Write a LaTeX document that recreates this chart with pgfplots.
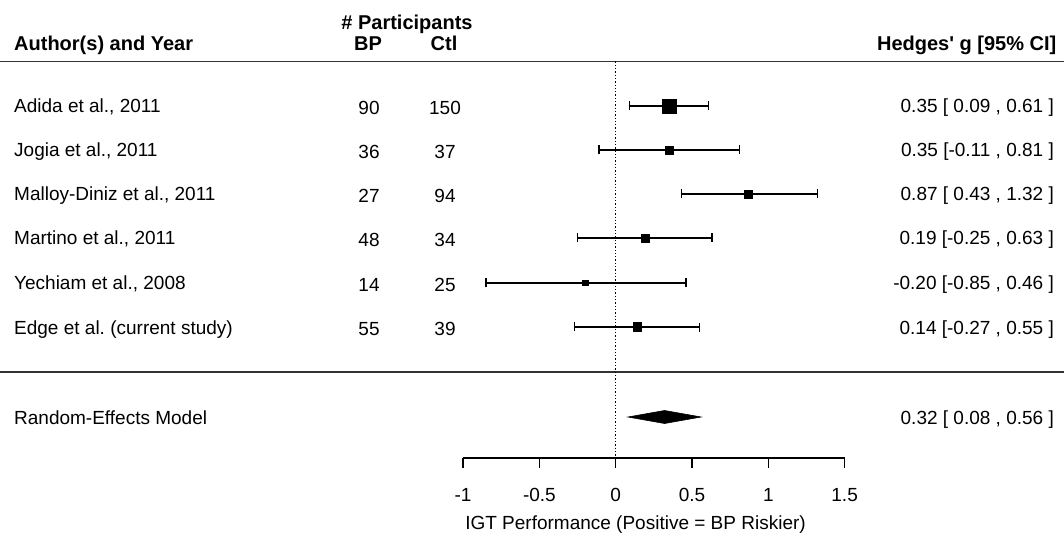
\documentclass[border=0pt]{standalone}
\usepackage{fontspec}
\setmainfont{Liberation Sans}
\usepackage{pgfplots}
\pgfplotsset{compat=1.18}
\usepackage{pgfplotstable}

\pgfplotstableread{
y g lo hi ms
-106 0.35 0.09 0.61 6.8
-150 0.35 -0.11 0.81 3.8
-194 0.87 0.43 1.32 3.9
-238 0.19 -0.25 0.63 4.0
-283 -0.20 -0.85 0.46 2.6
-327 0.14 -0.27 0.55 4.3
}\studies

\begin{document}
\frenchspacing
\fontsize{19}{22}\selectfont
\begin{tikzpicture}[
  lbl/.style={inner sep=0pt, font=\fontsize{19}{22}\selectfont},
  hdr/.style={inner sep=0pt, font=\fontsize{20}{22}\selectfont\bfseries}]
\useasboundingbox (0,0) rectangle (1064pt,541pt);
\begin{axis}[name=main, at={(0,0)}, anchor=south west, scale only axis,
  width=1064pt, height=541pt, xmin=-4.0347, xmax=2.9378, ymin=-541, ymax=0,
  hide axis, clip=false]
% rules
\addplot[line width=1.5pt, black!80] coordinates {(-4.0347,-61.5) (2.9378,-61.5)};
\addplot[line width=1.5pt, black!80] coordinates {(-4.0347,-372) (2.9378,-372)};
\addplot[dotted, line width=1.3pt, black] coordinates {(0,-61.5) (0,-458)};
% CIs
\addplot[draw=none, mark=none, error bars/.cd, x dir=both, x explicit,
  error mark=|,
  error bar style={line width=1.3pt, black},
  error mark options={black, line width=1.3pt, mark size=4.5pt}]
  table[x=g, y=y, x error plus expr=\thisrow{hi}-\thisrow{g},
        x error minus expr=\thisrow{g}-\thisrow{lo}] {\studies};
% squares
\addplot[only marks, mark=square*, scatter,
  mark options={line width=0.4pt},
  scatter/use mapped color={draw=black, fill=black},
  visualization depends on={\thisrow{ms} \as \psz},
  scatter/@pre marker code/.append style={/tikz/mark size=\psz}]
  table[x=g, y=y] {\studies};
% summary diamond
\addplot[fill=black, draw=black, line width=0.6pt]
  coordinates {(0.08,-417) (0.32,-410.5) (0.56,-417) (0.32,-423.5)} -- cycle;
% headers
\node[hdr, anchor=base] at (axis cs:-1.3676,-30) {\# Participants};
\node[hdr, anchor=base west] at (axis cs:-3.9430,-51) {Author(s) and Year};
\node[hdr, anchor=base] at (axis cs:-1.6232,-51) {BP};
\node[hdr, anchor=base] at (axis cs:-1.1252,-51) {Ctl};
\node[hdr, anchor=base east] at (axis cs:2.8886,-51) {Hedges\textquotesingle\ g [95\% CI]};
% study labels
\node[lbl, anchor=base west] at (axis cs:-3.9430,-113) {Adida et al., 2011};
\node[lbl, anchor=base west] at (axis cs:-3.9430,-157) {Jogia et al., 2011};
\node[lbl, anchor=base west] at (axis cs:-3.9430,-201) {Malloy-Diniz et al., 2011};
\node[lbl, anchor=base west] at (axis cs:-3.9430,-245) {Martino et al., 2011};
\node[lbl, anchor=base west] at (axis cs:-3.9430,-290) {Yechiam et al., 2008};
\node[lbl, anchor=base west] at (axis cs:-3.9430,-334) {Edge et al. (current study)};
\node[lbl, anchor=base west] at (axis cs:-3.9430,-424) {Random-Effects Model};
% participants
\node[lbl, anchor=base] at (axis cs:-1.6166,-115) {90};
\node[lbl, anchor=base] at (axis cs:-1.6166,-159) {36};
\node[lbl, anchor=base] at (axis cs:-1.6166,-203) {27};
\node[lbl, anchor=base] at (axis cs:-1.6166,-247) {48};
\node[lbl, anchor=base] at (axis cs:-1.6166,-292) {14};
\node[lbl, anchor=base] at (axis cs:-1.6166,-336) {55};
\node[lbl, anchor=base] at (axis cs:-1.1186,-115) {150};
\node[lbl, anchor=base] at (axis cs:-1.1186,-159) {37};
\node[lbl, anchor=base] at (axis cs:-1.1186,-203) {94};
\node[lbl, anchor=base] at (axis cs:-1.1186,-247) {34};
\node[lbl, anchor=base] at (axis cs:-1.1186,-292) {25};
\node[lbl, anchor=base] at (axis cs:-1.1186,-336) {39};
% effect sizes
\node[lbl, anchor=base east] at (axis cs:2.8722,-113) {0.35 [ 0.09 , 0.61 ]};
\node[lbl, anchor=base east] at (axis cs:2.8722,-157) {0.35 [-0.11 , 0.81 ]};
\node[lbl, anchor=base east] at (axis cs:2.8722,-201) {0.87 [ 0.43 , 1.32 ]};
\node[lbl, anchor=base east] at (axis cs:2.8722,-245) {0.19 [-0.25 , 0.63 ]};
\node[lbl, anchor=base east] at (axis cs:2.8722,-290) {-0.20 [-0.85 , 0.46 ]};
\node[lbl, anchor=base east] at (axis cs:2.8722,-334) {0.14 [-0.27 , 0.55 ]};
\node[lbl, anchor=base east] at (axis cs:2.8722,-424) {0.32 [ 0.08 , 0.56 ]};
% x label
\node[lbl, anchor=base] at (axis cs:0.1297,-529.5) {IGT Performance (Positive = BP Riskier)};
\end{axis}
\begin{axis}[at={(463.1pt,83pt)}, anchor=south west, scale only axis,
  width=381.5pt, height=10pt, xmin=-1, xmax=1.5, ymin=0, ymax=1,
  axis y line=none, axis x line*=bottom,
  x axis line style={-, line width=1.3pt, black},
  xtick={-1,-0.5,0,0.5,1,1.5}, xticklabels={-1,-0.5,0,0.5,1,1.5},
  tick align=outside, major tick length=9.5pt,
  xtick style={line width=1.3pt, black},
  xticklabel style={anchor=base, yshift=-34.2pt, inner sep=0pt, font=\fontsize{19}{22}\selectfont}]
\end{axis}
\end{tikzpicture}
\end{document}
